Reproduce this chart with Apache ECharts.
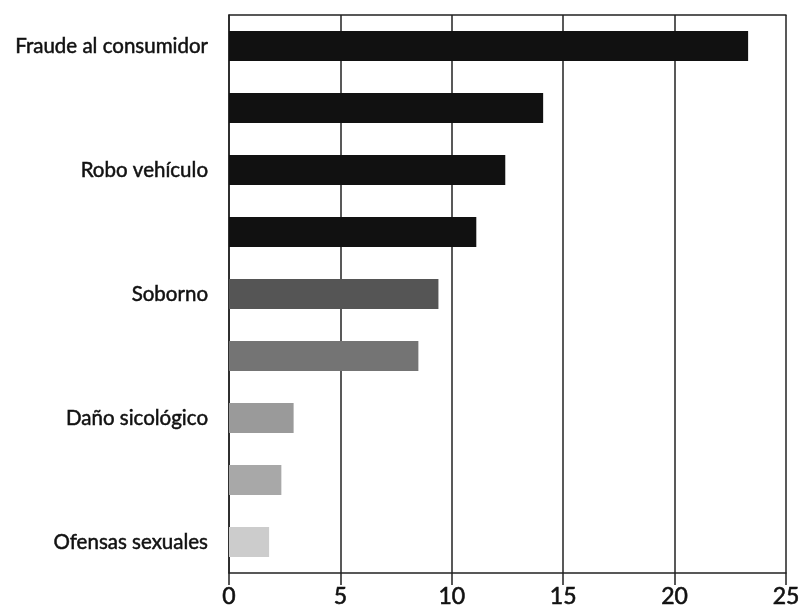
<!DOCTYPE html>
<html>
<head>
<meta charset="utf-8">
<script src="https://cdn.jsdelivr.net/npm/echarts@6/dist/echarts.min.js"></script>
<style>html,body{margin:0;padding:0;background:#fff;}#c{width:804px;height:615px;}</style>
</head>
<body>
<div id="c"></div>
<script>
var categories = ["Fraude al consumidor", "", "Robo vehículo", "", "Soborno", "", "Daño sicológico", "", "Ofensas sexuales"];
var values = [23.3, 14.1, 12.4, 11.1, 9.4, 8.5, 2.9, 2.35, 1.8];
var barColors = ["#111111", "#111111", "#111111", "#111111", "#555555", "#747474", "#9a9a9a", "#a8a8a8", "#cccccc"];
var xTicks = [0, 5, 10, 15, 20, 25];

var chart = echarts.init(document.getElementById('c'));
var fontFam = "Lato, 'Open Sans', sans-serif";
chart.setOption({
  animation: false,
  grid: { left: 229, right: 18, top: 15, bottom: 42 },
  xAxis: [{
    type: 'value', min: 0, max: 25, interval: 5, position: 'bottom',
    axisLine: { show: true, lineStyle: { color: '#222', width: 1.5 } },
    axisTick: { show: true, length: 12, lineStyle: { color: '#222', width: 1.5 } },
    axisLabel: { color: '#111', fontSize: 23, fontFamily: fontFam, margin: 12,
      textBorderColor: '#111', textBorderWidth: 0.6,
      formatter: function (v) { return xTicks.indexOf(v) >= 0 ? String(v) : ''; } },
    splitLine: { show: true, lineStyle: { color: '#222', width: 1.5 } }
  }, {
    type: 'value', min: 0, max: 25, interval: 5, position: 'top',
    axisLine: { show: true, lineStyle: { color: '#222', width: 1.5 } },
    axisTick: { show: false }, axisLabel: { show: false }, splitLine: { show: false }
  }],
  yAxis: {
    type: 'category', inverse: true, data: categories,
    axisLine: { show: true, lineStyle: { color: '#222', width: 1.5 } },
    axisTick: { show: false },
    axisLabel: { interval: 0, color: '#111', fontSize: 20.5, fontFamily: fontFam, margin: 21,
      textBorderColor: '#111', textBorderWidth: 0.5 }
  },
  series: [{
    type: 'bar', xAxisIndex: 0, barWidth: 30,
    data: values.map(function (v, i) { return { value: v, itemStyle: { color: barColors[i] } }; })
  }]
});
</script>
</body>
</html>
